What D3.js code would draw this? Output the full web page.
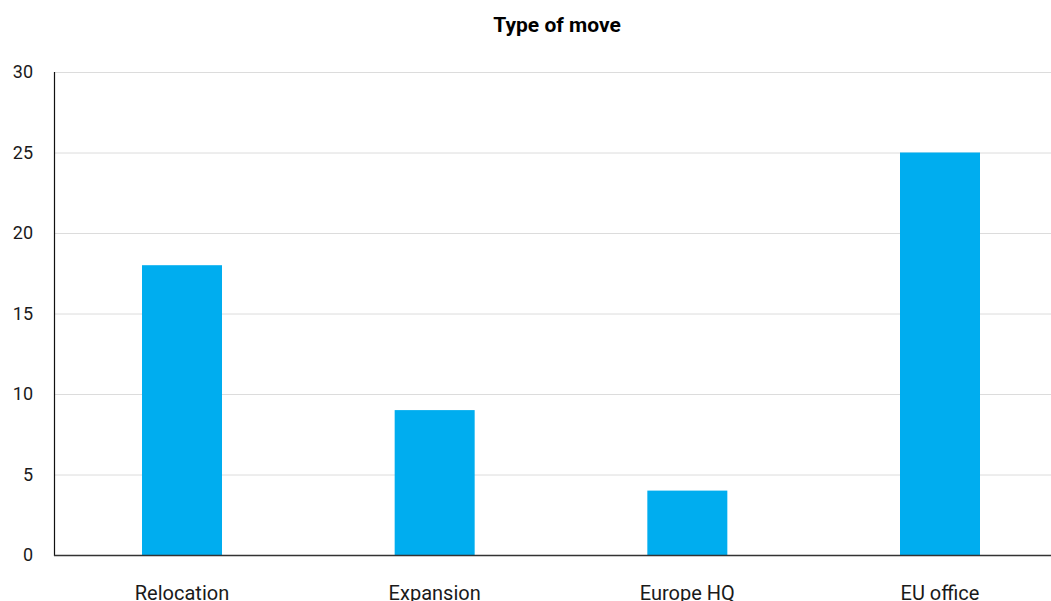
<!DOCTYPE html>
<html>
<head>
	<meta charset="utf-8">
	<script src="https://d3js.org/d3.v7.min.js"></script>
	<style type="text/css">
		body { margin: 0; background: #fff; }
		text { font-family: Roboto, "Liberation Sans", sans-serif; fill: #1a1a1a; }
	</style>
</head>
<body>
<script>
    // chart data
    var categories = ["Relocation", "Expansion", "Europe HQ", "EU office"];
    var values = [18, 9, 4, 25];
    var yTicks = [0, 5, 10, 15, 20, 25, 30];
    var title = "Type of move";

    var width = 1051, height = 601;
    var plotLeft = 54, plotTop = 72, plotBottom = 555;

    var svg = d3.select("body").append("svg")
        .attr("width", width)
        .attr("height", height);

    var y = d3.scaleLinear().domain([0, 30]).range([plotBottom, plotTop]);

    var x = d3.scaleBand()
        .domain(categories)
        .range([plotLeft, 1068])
        .paddingInner(0.6834)
        .paddingOuter(0.3483);

    // grid lines
    svg.selectAll("line.grid")
        .data(yTicks.filter(function(d) { return d > 0; }))
        .enter().append("line")
        .attr("class", "grid")
        .attr("x1", plotLeft).attr("x2", width)
        .attr("y1", function(d) { return y(d) + 0.5; })
        .attr("y2", function(d) { return y(d) + 0.5; })
        .style("stroke", "#dcdcdc")
        .style("stroke-width", 1);

    // y tick labels
    svg.selectAll("text.ytick")
        .data(yTicks)
        .enter().append("text")
        .attr("class", "ytick")
        .attr("x", 33)
        .attr("y", function(d) { return y(d); })
        .attr("dy", "0.35em")
        .attr("text-anchor", "end")
        .style("font-size", "18px")
        .text(function(d) { return d; });

    // bars
    svg.selectAll("rect.bar")
        .data(values)
        .enter().append("rect")
        .attr("class", "bar")
        .attr("x", function(d, i) { return x(categories[i]); })
        .attr("y", function(d) { return y(d); })
        .attr("width", x.bandwidth())
        .attr("height", function(d) { return plotBottom - y(d); })
        .style("fill", "#00adef");

    // axis lines
    svg.append("line")
        .attr("x1", plotLeft + 0.5).attr("x2", plotLeft + 0.5)
        .attr("y1", plotTop).attr("y2", plotBottom + 1)
        .style("stroke", "#111")
        .style("stroke-width", 1.2);

    svg.append("line")
        .attr("x1", plotLeft).attr("x2", width)
        .attr("y1", plotBottom + 0.5).attr("y2", plotBottom + 0.5)
        .style("stroke", "#333")
        .style("stroke-width", 1.5);

    // category labels
    svg.selectAll("text.xtick")
        .data(categories)
        .enter().append("text")
        .attr("class", "xtick")
        .attr("x", function(d) { return x(d) + x.bandwidth() / 2; })
        .attr("y", 600)
        .attr("text-anchor", "middle")
        .style("font-size", "20px")
        .text(function(d) { return d; });

    // title
    svg.append("text")
        .attr("x", 557)
        .attr("y", 32)
        .attr("text-anchor", "middle")
        .style("font-size", "21px")
        .style("font-weight", "bold")
        .style("fill", "#000")
        .text(title);
</script>
</body>
</html>
